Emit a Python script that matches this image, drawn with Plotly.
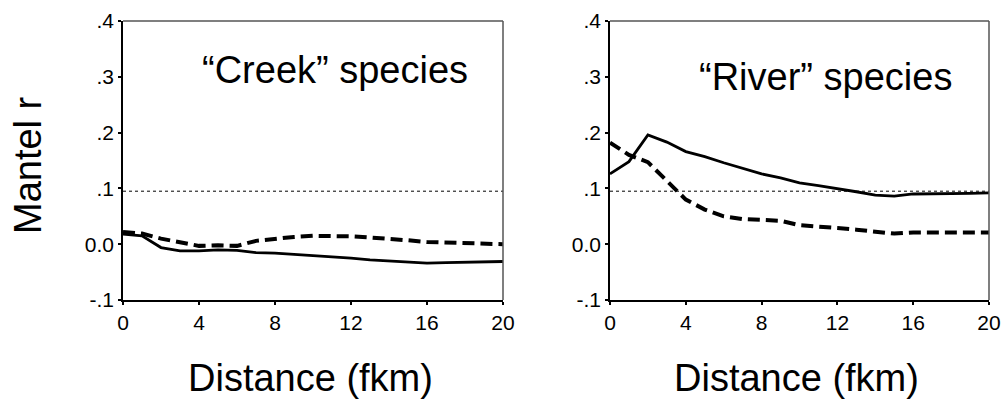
import plotly.graph_objects as go

distance = list(range(0, 21))

creek_solid = [0.018, 0.015, -0.006, -0.012, -0.012, -0.010, -0.011, -0.015, -0.016, -0.018,
               -0.020, -0.022, -0.025, -0.028, -0.030, -0.032, -0.034, -0.033, -0.032, -0.031, -0.031]
creek_dashed = [0.022, 0.019, 0.010, 0.004, -0.003, -0.002, -0.003, 0.006, 0.010, 0.013,
                0.015, 0.015, 0.014, 0.012, 0.010, 0.007, 0.004, 0.003, 0.002, 0.001, 0.000]

river_solid = [0.126, 0.148, 0.196, 0.183, 0.166, 0.157, 0.146, 0.136, 0.126, 0.119,
               0.110, 0.105, 0.100, 0.094, 0.088, 0.086, 0.090, 0.090, 0.090, 0.091, 0.092]
river_dashed = [0.182, 0.160, 0.147, 0.113, 0.080, 0.062, 0.050, 0.045, 0.044, 0.042,
                0.034, 0.032, 0.029, 0.026, 0.023, 0.019, 0.021, 0.021, 0.021, 0.021, 0.021]

threshold = [0.095, 0.095]
threshold_x = [0, 20]

y_tickvals = [-0.1, 0.0, 0.1, 0.2, 0.3, 0.4]
y_ticktext = ["-.1", "0.0", ".1", ".2", ".3", ".4"]
x_tickvals = [0, 4, 8, 12, 16, 20]

panel_titles = ["\u201cCreek\u201d species", "\u201cRiver\u201d species"]
x_title = "Distance (fkm)"
y_title = "Mantel r"

FONT = "Liberation Sans, Arial, sans-serif"

fig = go.Figure()

panels = [("x", "y", creek_solid, creek_dashed), ("x2", "y2", river_solid, river_dashed)]
for xa, ya, solid, dashed in panels:
    fig.add_trace(go.Scatter(x=threshold_x, y=threshold, mode="lines", xaxis=xa, yaxis=ya,
                             line=dict(color="black", width=1, dash="3px,3px"),
                             showlegend=False, hoverinfo="skip"))
    fig.add_trace(go.Scatter(x=distance, y=dashed, mode="lines", xaxis=xa, yaxis=ya,
                             line=dict(color="black", width=4, dash="12px,6px"),
                             showlegend=False))
    fig.add_trace(go.Scatter(x=distance, y=solid, mode="lines", xaxis=xa, yaxis=ya,
                             line=dict(color="black", width=2.8),
                             showlegend=False))

ydom = [1 - 300 / 402, 1 - 21 / 402]
axis_common = dict(showgrid=False, zeroline=False, showline=True, linecolor="black", linewidth=1.5,
                   ticks="outside", ticklen=3, tickwidth=2, tickcolor="black", automargin=False,
                   tickfont=dict(family=FONT, size=21, color="black"))

fig.update_layout(
    width=1002, height=402,
    margin=dict(l=0, r=0, t=0, b=0),
    paper_bgcolor="white", plot_bgcolor="white",
    xaxis=dict(domain=[123 / 1002, 503 / 1002], range=[0, 20], tickvals=x_tickvals, anchor="y", **axis_common),
    yaxis=dict(domain=ydom, range=[-0.1, 0.4], tickvals=y_tickvals, ticktext=y_ticktext, anchor="x", **axis_common),
    xaxis2=dict(domain=[610 / 1002, 989 / 1002], range=[0, 20], tickvals=x_tickvals, anchor="y2", **axis_common),
    yaxis2=dict(domain=ydom, range=[-0.1, 0.4], tickvals=y_tickvals, ticktext=y_ticktext, anchor="x2", **axis_common),
)

# top and right frame lines (grey)
for xr, yr in [("x domain", "y domain"), ("x2 domain", "y2 domain")]:
    fig.add_shape(type="line", xref=xr, yref=yr, x0=0, x1=1, y0=1, y1=1, line=dict(color="#555555", width=1.5))
    fig.add_shape(type="line", xref=xr, yref=yr, x0=1, x1=1, y0=0, y1=1, line=dict(color="#555555", width=1.5))

# panel titles
fig.add_annotation(text=panel_titles[0], xref="paper", yref="paper", x=335 / 1002, y=1 - 70 / 402,
                   showarrow=False, xanchor="center", yanchor="middle",
                   font=dict(family=FONT, size=38, color="black"))
fig.add_annotation(text=panel_titles[1], xref="paper", yref="paper", x=825 / 1002, y=1 - 77 / 402,
                   showarrow=False, xanchor="center", yanchor="middle",
                   font=dict(family=FONT, size=38, color="black"))

# x titles
for cx in [310, 796]:
    fig.add_annotation(text=x_title, xref="paper", yref="paper", x=cx / 1002, y=1 - 378 / 402,
                       showarrow=False, xanchor="center", yanchor="middle",
                       font=dict(family=FONT, size=38, color="black"))

# y title
fig.add_annotation(text=y_title, xref="paper", yref="paper", x=28 / 1002, y=1 - 165 / 402,
                   showarrow=False, xanchor="center", yanchor="middle", textangle=-90,
                   font=dict(family=FONT, size=38, color="black"))

fig.write_html("out.html")
